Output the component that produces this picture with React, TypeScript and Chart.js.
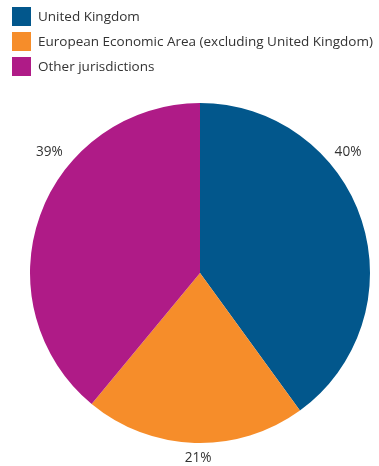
import React, { useEffect, useRef } from "react";
import { Chart, registerables } from "chart.js";

Chart.register(...registerables);

const categories = [
  "United Kingdom",
  "European Economic Area (excluding United Kingdom)",
  "Other jurisdictions",
];
const values = [40, 21, 39];
const percentLabels = ["40%", "21%", "39%"];
const colors = ["#02578C", "#F68D2A", "#AF1B87"];

const FONT = '"Open Sans", "Noto Sans", sans-serif';

const outsideLabels = {
  id: "outsideLabels",
  afterDatasetsDraw(chart: any, _args: any, opts: any) {
    const { ctx } = chart;
    const meta = chart.getDatasetMeta(0);
    ctx.save();
    ctx.font = `13.6px ${FONT}`;
    ctx.fillStyle = "#333333";
    ctx.textAlign = "center";
    ctx.textBaseline = "middle";
    meta.data.forEach((arc: any, i: number) => {
      const deg = opts.angles[i];
      const dist = opts.distances[i];
      const a = (deg * Math.PI) / 180;
      const x = arc.x + Math.sin(a) * dist;
      const y = arc.y - Math.cos(a) * dist;
      ctx.fillText(percentLabels[i], x, y);
    });
    ctx.restore();
  },
};

export default function App() {
  const ref = useRef<HTMLCanvasElement | null>(null);

  useEffect(() => {
    if (!ref.current) return;
    const chart = new Chart(ref.current, {
      type: "pie",
      data: {
        labels: categories,
        datasets: [
          {
            data: values,
            backgroundColor: colors,
            borderWidth: 0,
          },
        ],
      },
      options: {
        responsive: false,
        animation: false,
        layout: { padding: { left: 30, right: 9, top: 103, bottom: 23 } },
        plugins: {
          legend: { display: false },
          tooltip: { enabled: false },
          outsideLabels: {
            angles: [50.8, 180.6, -51.3],
            distances: [191, 185, 193],
          },
        } as any,
      },
      plugins: [outsideLabels],
    });
    return () => chart.destroy();
  }, []);

  return (
    <div style={{ position: "absolute", left: 0, top: 0, width: 379, height: 466, background: "#fff" }}>
      <canvas ref={ref} width={379} height={466} style={{ position: "absolute", left: 0, top: 0 }} />
      <div style={{ position: "absolute", left: 12, top: 7, fontFamily: FONT, fontSize: 13.5, color: "#333" }}>
        {categories.map((c, i) => (
          <div key={c} style={{ display: "flex", alignItems: "center", height: 19, marginBottom: 6 }}>
            <span style={{ display: "inline-block", width: 19, height: 19, background: colors[i], marginRight: 7, flex: "none" }} />
            <span style={{ whiteSpace: "nowrap", lineHeight: "19px" }}>{c}</span>
          </div>
        ))}
      </div>
    </div>
  );
}
